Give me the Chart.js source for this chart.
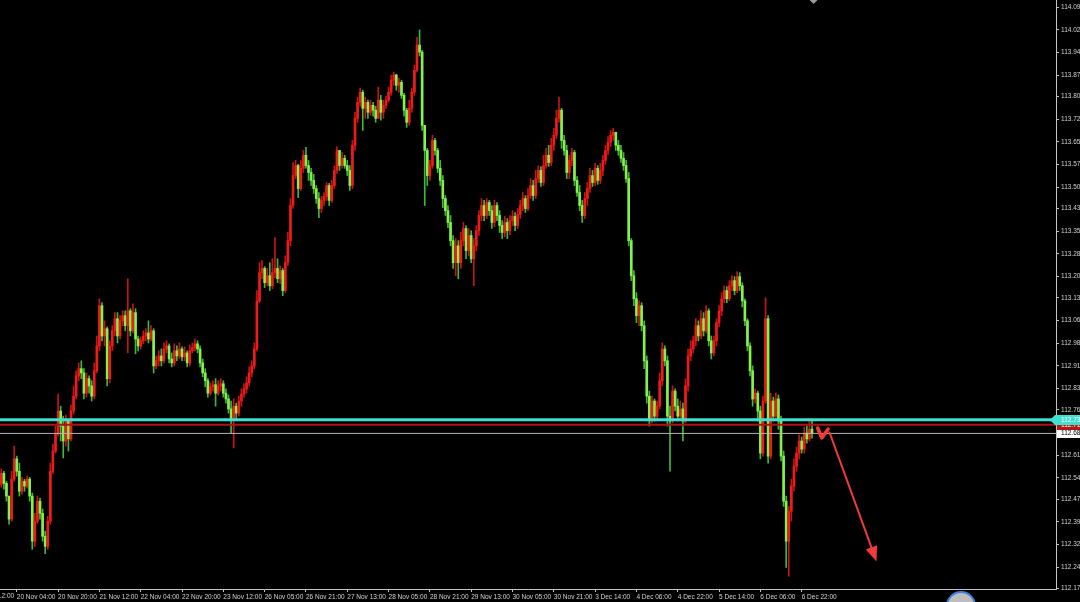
<!DOCTYPE html>
<html>
<head>
<meta charset="utf-8">
<script src="https://cdn.jsdelivr.net/npm/chart.js@4.4.0/dist/chart.umd.min.js"></script>
<style>
  html, body { margin: 0; padding: 0; background: #000; overflow: hidden; }
  #wrap { width: 1110px; height: 602px; }
</style>
</head>
<body>
<div id="wrap"><canvas id="myChart" width="1110" height="602"></canvas></div>
<script>
// H1 candles, one bar per hour; time label every 16 bars
var timeLabels = ['20 Nov 04:00', '20 Nov 20:00', '21 Nov 12:00', '22 Nov 04:00', '22 Nov 20:00',
    '23 Nov 12:00', '26 Nov 05:00', '26 Nov 21:00', '27 Nov 13:00', '28 Nov 05:00',
    '28 Nov 21:00', '29 Nov 13:00', '30 Nov 05:00', '30 Nov 21:00', '3 Dec 14:00',
    '4 Dec 06:00', '4 Dec 22:00', '5 Dec 14:00', '6 Dec 06:00', '6 Dec 22:00'];
var hiddenLabel = '19 Nov 12:00';
var firstLabelBar = 6;
var barsPerLabel = 16;
var totalSlots = 409;

var firstOpen = 112.519;
var closes = [
    112.555, 112.522, 112.480, 112.404, 112.536, 112.603, 112.562, 112.496, 112.529, 112.513,
    112.536, 112.480, 112.331, 112.397, 112.463, 112.423, 112.347, 112.314, 112.397, 112.562,
    112.629, 112.688, 112.761, 112.711, 112.662, 112.728, 112.669, 112.761, 112.810, 112.877,
    112.901, 112.887, 112.820, 112.868, 112.844, 112.810, 112.894, 112.976, 113.109, 113.009,
    113.033, 112.868, 112.976, 113.026, 113.066, 113.009, 113.059, 113.076, 113.043, 113.092,
    113.026, 113.086, 112.999, 112.976, 112.993, 113.009, 113.019, 112.999, 113.026, 112.910,
    112.927, 112.943, 112.927, 112.966, 112.976, 112.933, 112.920, 112.960, 112.943, 112.966,
    112.940, 112.953, 112.920, 112.960, 112.970, 112.983, 112.966, 112.920, 112.887, 112.861,
    112.820, 112.841, 112.848, 112.820, 112.844, 112.851, 112.820, 112.801, 112.768, 112.735,
    112.777, 112.754, 112.794, 112.817, 112.834, 112.854, 112.887, 112.910, 112.966, 113.125,
    113.218, 113.232, 113.185, 113.208, 113.175, 113.218, 113.232, 113.198, 113.225, 113.159,
    113.251, 113.324, 113.440, 113.539, 113.572, 113.496, 113.563, 113.606, 113.572, 113.549,
    113.523, 113.496, 113.463, 113.430, 113.457, 113.470, 113.506, 113.457, 113.506, 113.556,
    113.622, 113.572, 113.596, 113.572, 113.556, 113.506, 113.639, 113.728, 113.781, 113.814,
    113.761, 113.781, 113.748, 113.771, 113.755, 113.728, 113.788, 113.748, 113.771, 113.788,
    113.814, 113.854, 113.871, 113.837, 113.847, 113.804, 113.755, 113.715, 113.761, 113.814,
    113.887, 113.970, 113.947, 113.705, 113.622, 113.539, 113.572, 113.655, 113.622, 113.563,
    113.523, 113.463, 113.423, 113.384, 113.324, 113.251, 113.307, 113.251, 113.324, 113.364,
    113.291, 113.341, 113.264, 113.307, 113.357, 113.407, 113.440, 113.407, 113.450, 113.423,
    113.384, 113.440, 113.407, 113.374, 113.351, 113.384, 113.357, 113.390, 113.404, 113.374,
    113.410, 113.440, 113.463, 113.430, 113.473, 113.506, 113.473, 113.529, 113.556, 113.516,
    113.572, 113.606, 113.582, 113.639, 113.672, 113.728, 113.755, 113.655, 113.622, 113.549,
    113.589, 113.615, 113.523, 113.483, 113.440, 113.407, 113.463, 113.496, 113.539, 113.516,
    113.563, 113.523, 113.556, 113.589, 113.622, 113.649, 113.672, 113.682, 113.639, 113.622,
    113.596, 113.572, 113.529, 113.324, 113.208, 113.132, 113.076, 113.109, 113.043, 112.927,
    112.810, 112.735, 112.794, 112.744, 112.777, 112.861, 112.966, 112.927, 112.744, 112.728,
    112.827, 112.777, 112.744, 112.768, 112.728, 112.844, 112.943, 112.966, 112.993, 113.043,
    113.009, 113.066, 113.026, 113.092, 112.993, 112.953, 112.993, 113.053, 113.092, 113.132,
    113.159, 113.132, 113.175, 113.192, 113.159, 113.205, 113.175, 113.125, 113.059, 112.976,
    112.894, 112.801, 112.820, 112.761, 112.622, 112.794, 113.066, 112.612, 112.794, 112.744,
    112.801, 112.728, 112.612, 112.463, 112.331, 112.430, 112.513, 112.579, 112.622, 112.662,
    112.635, 112.688, 112.669, 112.701, 112.687
];
var highs = [
    112.570, 112.562, 112.529, 112.480, 112.562, 112.645, 112.612, 112.589, 112.542, 112.536,
    112.546, 112.542, 112.490, 112.423, 112.480, 112.473, 112.437, 112.364, 112.413, 112.589,
    112.652, 112.711, 112.817, 112.777, 112.744, 112.748, 112.735, 112.781, 112.844, 112.894,
    112.920, 112.927, 112.901, 112.887, 112.877, 112.861, 112.920, 113.009, 113.132, 113.119,
    113.059, 113.039, 112.993, 113.043, 113.086, 113.086, 113.076, 113.092, 113.092, 113.198,
    113.099, 113.115, 113.099, 113.009, 113.006, 113.026, 113.033, 113.059, 113.043, 113.033,
    112.943, 112.960, 112.966, 112.986, 112.993, 112.983, 112.953, 112.983, 112.976, 112.986,
    112.973, 112.973, 112.960, 112.979, 112.986, 112.999, 112.993, 112.976, 112.933, 112.901,
    112.868, 112.854, 112.861, 112.868, 112.861, 112.868, 112.861, 112.834, 112.814, 112.794,
    112.801, 112.787, 112.810, 112.834, 112.851, 112.874, 112.907, 112.927, 112.986, 113.159,
    113.251, 113.258, 113.238, 113.232, 113.251, 113.264, 113.334, 113.264, 113.241, 113.232,
    113.274, 113.351, 113.463, 113.582, 113.589, 113.576, 113.589, 113.622, 113.632, 113.589,
    113.563, 113.543, 113.506, 113.483, 113.470, 113.483, 113.516, 113.513, 113.523, 113.572,
    113.635, 113.622, 113.615, 113.606, 113.589, 113.572, 113.655, 113.748, 113.798, 113.828,
    113.821, 113.798, 113.788, 113.788, 113.781, 113.768, 113.831, 113.804, 113.788, 113.801,
    113.831, 113.871, 113.881, 113.874, 113.861, 113.854, 113.811, 113.761, 113.788, 113.828,
    113.904, 113.996, 114.020, 113.953, 113.705, 113.629, 113.589, 113.672, 113.662, 113.629,
    113.589, 113.539, 113.473, 113.440, 113.407, 113.341, 113.331, 113.324, 113.351, 113.384,
    113.374, 113.364, 113.357, 113.331, 113.374, 113.423, 113.463, 113.457, 113.463, 113.457,
    113.440, 113.457, 113.450, 113.423, 113.390, 113.404, 113.397, 113.407, 113.423, 113.417,
    113.430, 113.457, 113.483, 113.473, 113.496, 113.529, 113.523, 113.556, 113.572, 113.569,
    113.606, 113.629, 113.639, 113.662, 113.695, 113.755, 113.798, 113.761, 113.672, 113.639,
    113.606, 113.629, 113.622, 113.536, 113.506, 113.457, 113.483, 113.516, 113.563, 113.556,
    113.579, 113.572, 113.579, 113.606, 113.639, 113.668, 113.688, 113.695, 113.682, 113.655,
    113.639, 113.615, 113.589, 113.549, 113.331, 113.225, 113.152, 113.125, 113.119, 113.059,
    112.943, 112.827, 112.810, 112.801, 112.794, 112.887, 112.986, 112.976, 112.943, 112.777,
    112.844, 112.834, 112.801, 112.794, 112.787, 112.868, 112.966, 112.993, 113.009, 113.066,
    113.059, 113.092, 113.086, 113.109, 113.099, 113.009, 113.009, 113.066, 113.109, 113.152,
    113.175, 113.172, 113.192, 113.208, 113.205, 113.222, 113.218, 113.185, 113.132, 113.066,
    112.986, 112.910, 112.834, 112.827, 112.777, 112.810, 113.135, 113.076, 112.820, 112.807,
    112.820, 112.814, 112.744, 112.629, 112.480, 112.446, 112.536, 112.603, 112.642, 112.682,
    112.675, 112.708, 112.711, 112.735, 112.728
];
var lows = [
    112.509, 112.503, 112.463, 112.387, 112.397, 112.529, 112.546, 112.480, 112.486, 112.496,
    112.506, 112.463, 112.304, 112.314, 112.390, 112.404, 112.331, 112.290, 112.304, 112.387,
    112.555, 112.622, 112.678, 112.662, 112.606, 112.645, 112.629, 112.662, 112.751, 112.801,
    112.861, 112.868, 112.801, 112.807, 112.820, 112.794, 112.801, 112.887, 112.960, 112.993,
    112.976, 112.844, 112.854, 112.960, 113.009, 112.986, 112.999, 113.043, 113.026, 112.953,
    113.009, 113.019, 112.950, 112.960, 112.966, 112.983, 112.993, 112.986, 112.993, 112.887,
    112.901, 112.910, 112.910, 112.920, 112.953, 112.920, 112.907, 112.910, 112.927, 112.933,
    112.927, 112.927, 112.907, 112.910, 112.953, 112.960, 112.953, 112.907, 112.874, 112.841,
    112.807, 112.814, 112.827, 112.777, 112.814, 112.827, 112.807, 112.787, 112.754, 112.688,
    112.639, 112.735, 112.744, 112.777, 112.807, 112.820, 112.844, 112.874, 112.901, 112.960,
    113.119, 113.198, 113.169, 113.175, 113.159, 113.165, 113.202, 113.185, 113.182, 113.142,
    113.152, 113.241, 113.307, 113.430, 113.529, 113.466, 113.490, 113.549, 113.563, 113.523,
    113.506, 113.480, 113.447, 113.400, 113.417, 113.440, 113.457, 113.440, 113.450, 113.496,
    113.546, 113.556, 113.563, 113.563, 113.539, 113.490, 113.496, 113.622, 113.715, 113.768,
    113.688, 113.728, 113.728, 113.738, 113.735, 113.715, 113.728, 113.722, 113.728, 113.761,
    113.781, 113.804, 113.837, 113.821, 113.814, 113.794, 113.735, 113.698, 113.705, 113.748,
    113.804, 113.881, 113.934, 113.688, 113.440, 113.506, 113.523, 113.563, 113.606, 113.549,
    113.506, 113.433, 113.407, 113.367, 113.307, 113.232, 113.208, 113.198, 113.232, 113.307,
    113.264, 113.274, 113.251, 113.175, 113.291, 113.341, 113.390, 113.390, 113.397, 113.407,
    113.364, 113.370, 113.390, 113.351, 113.331, 113.337, 113.331, 113.344, 113.374, 113.357,
    113.364, 113.397, 113.423, 113.417, 113.423, 113.463, 113.457, 113.463, 113.516, 113.503,
    113.506, 113.563, 113.569, 113.572, 113.622, 113.662, 113.715, 113.629, 113.606, 113.529,
    113.529, 113.572, 113.506, 113.470, 113.423, 113.384, 113.397, 113.440, 113.483, 113.503,
    113.506, 113.510, 113.513, 113.539, 113.576, 113.609, 113.635, 113.655, 113.622, 113.606,
    113.582, 113.556, 113.516, 113.307, 113.192, 113.109, 113.053, 113.043, 113.026, 112.901,
    112.787, 112.711, 112.722, 112.728, 112.728, 112.768, 112.844, 112.910, 112.711, 112.562,
    112.722, 112.761, 112.728, 112.735, 112.662, 112.722, 112.827, 112.927, 112.953, 112.976,
    112.993, 112.999, 113.009, 113.019, 112.976, 112.933, 112.943, 112.976, 113.039, 113.076,
    113.119, 113.119, 113.125, 113.159, 113.145, 113.152, 113.159, 113.105, 113.043, 112.960,
    112.877, 112.777, 112.787, 112.728, 112.603, 112.612, 112.787, 112.589, 112.603, 112.728,
    112.735, 112.701, 112.596, 112.446, 112.244, 112.215, 112.397, 112.496, 112.562, 112.603,
    112.622, 112.622, 112.655, 112.662, 112.671
];

// right axis
var priceTicks = [114.095, 114.020, 113.945, 113.870, 113.800, 113.725, 113.650, 113.575, 113.500,
    113.430, 113.355, 113.280, 113.205, 113.135, 113.060, 112.985, 112.910, 112.835, 112.765,
    112.615, 112.540, 112.470, 112.395, 112.320, 112.245, 112.175];
var yMin = 112.173;
var yMax = 114.119;

// horizontal lines: bid, red level, cyan level
var lineValues = [112.687, 112.716, 112.732];
var lineNames = ['bid', 'red', 'cyan'];

// hand drawn arrow, [bar, price]
var arrowPath = [[316.2, 112.705], [317.8, 112.672], [320.2, 112.701], [320.8, 112.690], [339.0, 112.264]];
var shiftMarkBar = 314.6;

var axisColor = '#c4c4c4';
var labelColor = '#d2d2d2';
var fontFamily = '"Liberation Sans", Arial, sans-serif';

var slotLabels = [];
for (var s = 0; s < totalSlots; s++) slotLabels.push('');
timeLabels.forEach(function (t, k) { slotLabels[firstLabelBar + k * barsPerLabel] = t; });

var bodies = [], wicks = [], bodyColors = [], wickColors = [];
for (var i = 0; i < closes.length; i++) {
    var o = i === 0 ? firstOpen : closes[i - 1];
    var c = closes[i];
    var up = c >= o;
    bodies.push([o, c]);
    wicks.push([Math.min(lows[i], o, c), Math.max(highs[i], o, c)]);
    bodyColors.push(up ? '#f01a1a' : '#84f24a');
    wickColors.push(up ? '#c81414' : '#3fb83f');
}

var overlay = {
    id: 'overlay',
    afterDatasetsDraw: function (chart) {
        var ctx = chart.ctx, a = chart.chartArea, y = chart.scales.y;
        var styles = { bid: ['#b4b4b4', 1], red: ['#a81616', 2], cyan: ['#40e0d0', 3] };
        ctx.save();
        lineValues.forEach(function (v, k) {
            var st = styles[lineNames[k]];
            var py = y.getPixelForValue(v);
            ctx.strokeStyle = st[0];
            ctx.lineWidth = st[1];
            ctx.beginPath();
            ctx.moveTo(a.left, py);
            ctx.lineTo(a.right, py);
            ctx.stroke();
        });
        ctx.restore();
    },
    afterDraw: function (chart) {
        var ctx = chart.ctx, a = chart.chartArea, x = chart.scales.x, y = chart.scales.y;
        ctx.save();

        // price labels on the right axis
        ctx.font = '6.5px ' + fontFamily;
        ctx.textBaseline = 'middle';
        ctx.textAlign = 'left';
        lineValues.forEach(function (v, k) {
            var py = Math.round(y.getPixelForValue(v));
            var name = lineNames[k];
            if (name === 'cyan') {
                ctx.fillStyle = '#40e0d0';
                ctx.beginPath();
                ctx.moveTo(a.right - 6, py);
                ctx.lineTo(a.right - 1, py - 5);
                ctx.lineTo(chart.width, py - 5);
                ctx.lineTo(chart.width, py + 5);
                ctx.lineTo(a.right - 1, py + 5);
                ctx.closePath();
                ctx.fill();
                ctx.fillStyle = '#ffffff';
            } else if (name === 'red') {
                ctx.fillStyle = '#b01818';
                ctx.fillRect(a.right + 1, py - 4, 60, 9);
                ctx.fillStyle = '#ffffff';
            } else {
                ctx.fillStyle = '#ffffff';
                ctx.fillRect(a.right + 1, py - 5, 60, 10);
                ctx.fillStyle = '#000000';
            }
            ctx.fillText(v.toFixed(3), a.right + 5, py + 0.5);
        });

        // arrow
        var pts = arrowPath.map(function (p) { return [x.getPixelForValue(p[0]), y.getPixelForValue(p[1])]; });
        ctx.strokeStyle = '#f23a3a';
        ctx.fillStyle = '#f23a3a';
        ctx.lineJoin = 'round';
        ctx.lineCap = 'round';
        ctx.lineWidth = 3.5;
        ctx.beginPath();
        ctx.moveTo(pts[0][0], pts[0][1]);
        ctx.lineTo(pts[1][0], pts[1][1]);
        ctx.lineTo(pts[2][0], pts[2][1]);
        ctx.stroke();
        ctx.lineWidth = 2;
        var n = pts.length;
        var tip = pts[n - 1], from = pts[n - 2];
        var dx = tip[0] - from[0], dy = tip[1] - from[1];
        var len = Math.sqrt(dx * dx + dy * dy);
        var ux = dx / len, uy = dy / len;
        var bx = tip[0] - ux * 15, by = tip[1] - uy * 15;
        ctx.beginPath();
        ctx.moveTo(from[0], from[1]);
        ctx.lineTo(bx, by);
        ctx.stroke();
        ctx.beginPath();
        ctx.moveTo(tip[0], tip[1]);
        ctx.lineTo(bx - uy * 6, by + ux * 6);
        ctx.lineTo(bx + uy * 6, by - ux * 6);
        ctx.closePath();
        ctx.fill();

        // chart shift marker at the top
        var mx = x.getPixelForValue(shiftMarkBar);
        ctx.fillStyle = '#9a9a9a';
        ctx.beginPath();
        ctx.moveTo(mx - 4, a.top);
        ctx.lineTo(mx + 4, a.top);
        ctx.lineTo(mx, a.top + 4);
        ctx.closePath();
        ctx.fill();

        // label that scrolled off the left edge
        ctx.fillStyle = labelColor;
        ctx.textBaseline = 'middle';
        var lx = x.getPixelForValue(firstLabelBar - barsPerLabel);
        ctx.fillText(hiddenLabel, lx, x.top + 7);

        // watermark
        ctx.beginPath();
        ctx.arc(961, 606, 14, 0, Math.PI * 2);
        ctx.fillStyle = '#bdbdbd';
        ctx.fill();
        ctx.lineWidth = 2;
        ctx.strokeStyle = '#3d80e0';
        ctx.stroke();

        ctx.restore();
    }
};

var ctx = document.getElementById('myChart');
var candleChart = new Chart(ctx, {
    type: 'bar',
    data: {
        labels: slotLabels,
        datasets: [{
            label: 'body',
            data: bodies,
            backgroundColor: bodyColors,
            barThickness: 2,
            minBarLength: 1,
            borderWidth: 0,
            grouped: false,
            order: 0
        }, {
            label: 'wick',
            data: wicks,
            backgroundColor: wickColors,
            barThickness: 1,
            borderWidth: 0,
            grouped: false,
            order: 1
        }]
    },
    options: {
        responsive: false,
        animation: false,
        devicePixelRatio: 1,
        layout: { padding: 0 },
        plugins: { legend: { display: false }, tooltip: { enabled: false } },
        scales: {
            x: {
                offset: true,
                grid: { display: true, drawOnChartArea: false, drawTicks: true, tickLength: 3, color: axisColor, offset: false },
                border: { display: true, color: axisColor },
                ticks: {
                    autoSkip: false, maxRotation: 0, minRotation: 0, align: 'start', padding: 1,
                    color: labelColor, font: { family: fontFamily, size: 6.5 }
                },
                afterBuildTicks: function (sc) {
                    sc.ticks = sc.ticks.filter(function (t) { return slotLabels[t.value] !== ''; });
                },
                afterFit: function (sc) { sc.height = 13; sc.paddingLeft = 0; sc.paddingRight = 0; }
            },
            y: {
                position: 'right',
                min: yMin,
                max: yMax,
                grid: { drawOnChartArea: false, tickLength: 3, color: axisColor },
                border: { display: true, color: axisColor },
                ticks: {
                    padding: 2, color: labelColor, font: { family: fontFamily, size: 6.5 },
                    callback: function (v) { return v.toFixed(3); }
                },
                afterBuildTicks: function (sc) {
                    sc.ticks = priceTicks.map(function (v) { return { value: v }; });
                },
                afterFit: function (sc) { sc.width = 54; sc.paddingTop = 0; sc.paddingBottom = 0; }
            }
        }
    },
    plugins: [overlay]
});
</script>
</body>
</html>
